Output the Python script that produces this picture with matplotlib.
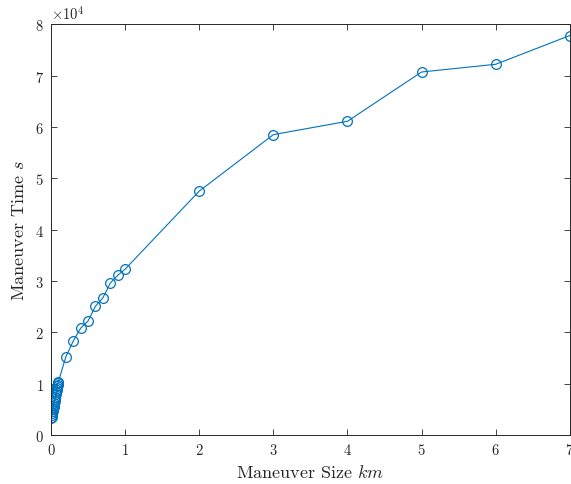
import matplotlib
matplotlib.use("Agg")
import matplotlib.pyplot as plt

plt.rcParams["font.family"] = "serif"
plt.rcParams["font.serif"] = ["cmr10", "DejaVu Serif"]
plt.rcParams["mathtext.fontset"] = "cm"
plt.rcParams["axes.formatter.use_mathtext"] = True
plt.rcParams["axes.unicode_minus"] = False

# Maneuver size (km) and corresponding maneuver time (s)
size_km = [0.005, 0.01, 0.015, 0.02, 0.025, 0.03, 0.035, 0.04, 0.045, 0.05,
           0.055, 0.06, 0.065, 0.07, 0.075, 0.08, 0.085, 0.09, 0.095, 0.1,
           0.2, 0.3, 0.4, 0.5, 0.6, 0.7, 0.8, 0.9, 1.0,
           2, 3, 4, 5, 6, 7]
time_s = [3300, 3600, 3900, 4300, 4700, 5100, 5500, 5900, 6300, 6700,
          7100, 7500, 7900, 8300, 8700, 9100, 9500, 9800, 10100, 10400,
          15200, 18300, 20800, 22200, 25100, 26700, 29600, 31100, 32300,
          47500, 58500, 61100, 70700, 72200, 77800]

fig = plt.figure(figsize=(5.71, 4.85), dpi=100)
ax = fig.add_axes([0.0893, 0.101, 0.9087, 0.847])

ax.plot(size_km, time_s, color="#0072BD", linewidth=0.8, marker="o",
        markersize=7, markerfacecolor="none", markeredgewidth=0.9)

ax.set_xlim(0, 7)
ax.set_ylim(0, 80000)
ax.set_xticks(range(0, 8))
ax.set_yticks(range(0, 80001, 10000))
ax.ticklabel_format(axis="y", style="sci", scilimits=(4, 4), useMathText=True)
ax.yaxis.get_offset_text().set_fontsize(10.5)

ax.tick_params(direction="in", length=4, width=0.6, labelsize=10.5,
               top=True, right=True, colors="#262626", pad=5)
for s in ax.spines.values():
    s.set_linewidth(0.7)
    s.set_color("#262626")

ax.set_xlabel("Maneuver Size $km$", fontsize=13, color="#262626", labelpad=4)
ax.set_ylabel("Maneuver Time $s$", fontsize=13, color="#262626", labelpad=6)

fig.savefig("out.png", dpi=100)
